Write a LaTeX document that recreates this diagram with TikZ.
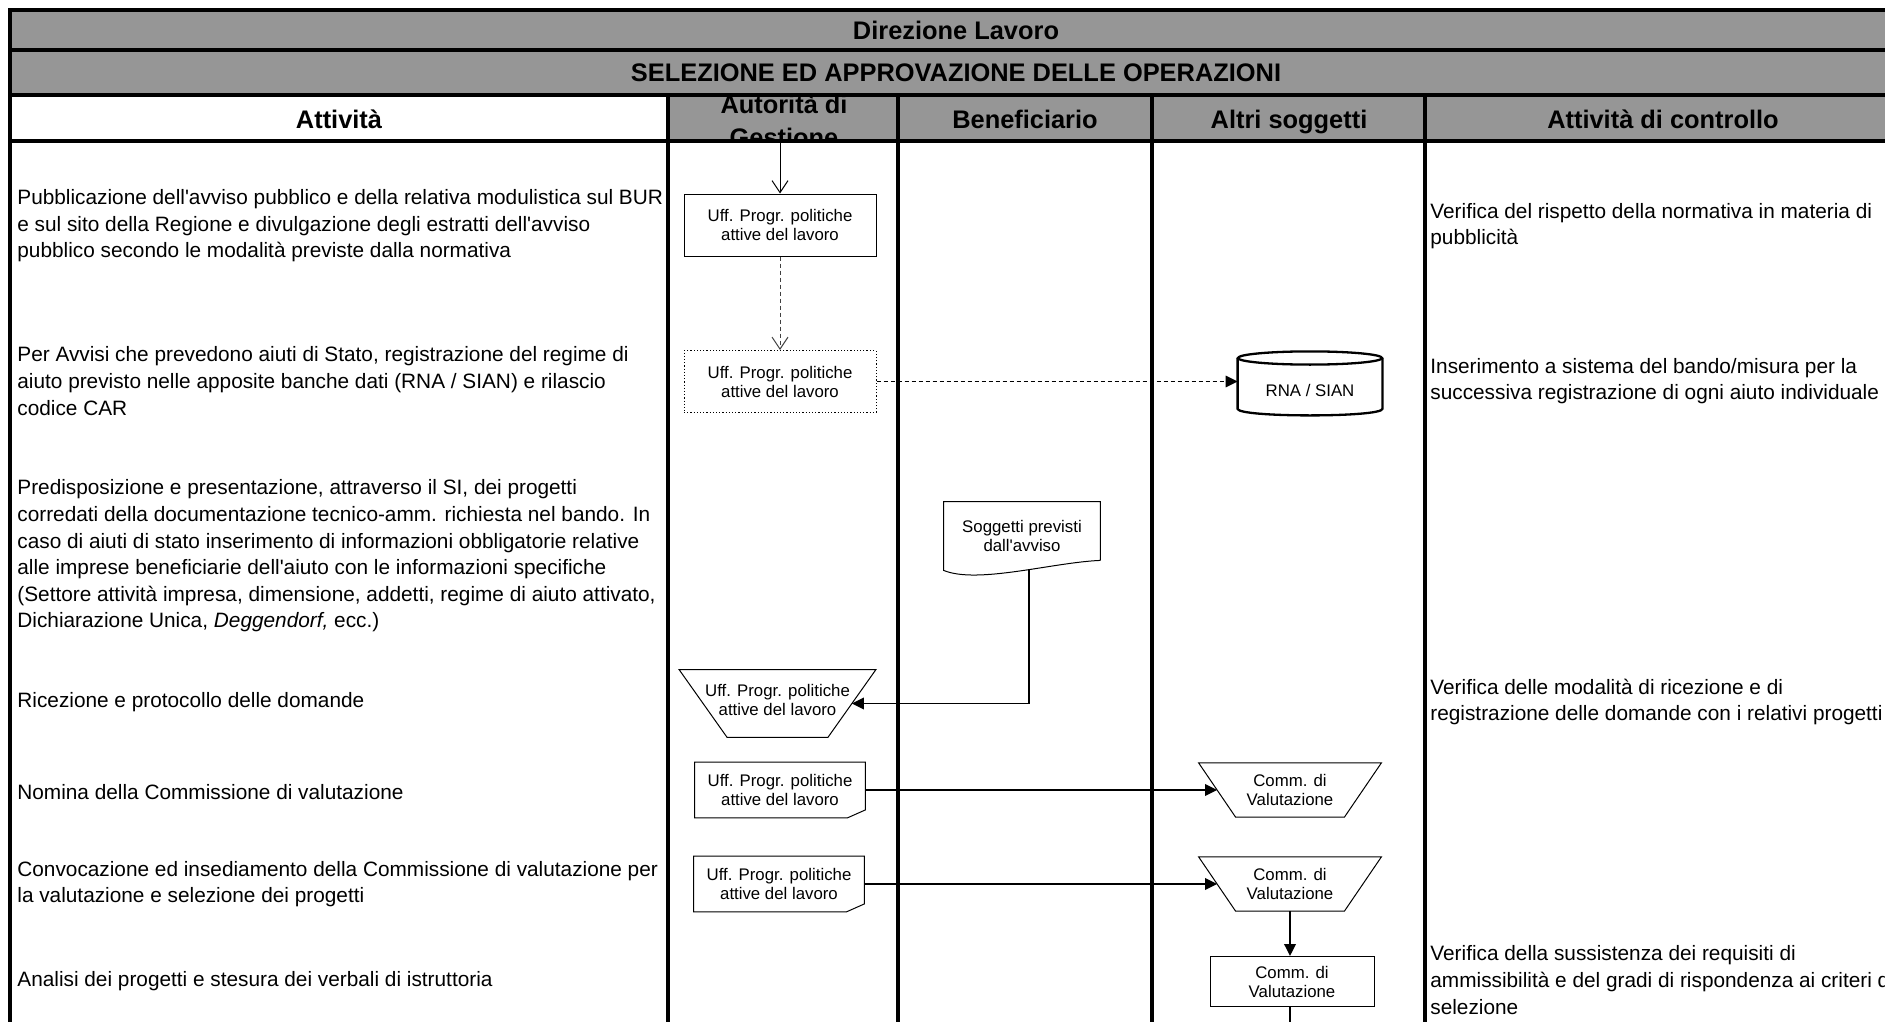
\documentclass[tikz,border=0pt]{standalone}
\usepackage{fontspec}
\setmainfont{Liberation Sans}
\usetikzlibrary{arrows.meta}

\definecolor{hdrgray}{RGB}{150,150,150}

\begin{document}
\begin{tikzpicture}[x=0.5pt,y=-0.5pt]
    \tikzstyle{grid}=[line width=2.2pt]
    \tikzstyle{hdr}=[font=\bfseries\fontsize{12.7}{17}\selectfont,inner sep=0pt]
    \tikzstyle{txt}=[anchor=west,align=left,inner sep=0pt,font=\fontsize{10.4}{13.3}\selectfont]
    \tikzstyle{uff}=[align=center,inner sep=0pt,font=\fontsize{8.4}{9.5}\selectfont]
    \tikzstyle{shp}=[line width=0.5pt]
    \tikzstyle{flow}=[line width=0.8pt,-{Triangle[length=6pt,width=5.8pt]}]
    \tikzstyle{vee}=[line width=0.5pt,-{Straight Barb[length=6pt,width=8pt]}]
    \tikzstyle{dashln}=[dash pattern=on 2pt off 1.5pt]
    \useasboundingbox (0,0) rectangle (1885,1022);

    % header
    \fill[hdrgray] (10,10) rectangle (1902,141);
    \fill[white] (10,95) rectangle (668,141);
    \node[hdr] (dir) at (956,30) {Direzione Lavoro};
    \node[hdr] (sel) at (956,72.5) {SELEZIONE ED APPROVAZIONE DELLE OPERAZIONI};
    \node[hdr,anchor=base] (hatt) at (339,128.5) {Attività};
    \begin{scope}
        \clip (668,97) rectangle (898,139);
        \node[hdr,align=center,anchor=base] (hag) at (784,147) {Autorità di\\Gestione};
    \end{scope}
    \node[hdr,anchor=base] (hben) at (1025,128.5) {Beneficiario};
    \node[hdr,anchor=base] (halt) at (1289,128.5) {Altri soggetti};
    \node[hdr,anchor=base] (hctl) at (1663,128.5) {Attività di controllo};

    \draw[grid] (1902,10) -- (10,10) -- (10,1035);
    \foreach \y in {50,95,141}
        \draw[grid] (10,\y) -- (1902,\y);
    \foreach \x in {668,898,1152,1425}
        \draw[grid] (\x,95) -- (\x,1035);

    % attivita
    \node[txt] (act1) at (17,226) {Pubblicazione dell\textquotesingle avviso pubblico e della relativa modulistica sul BUR\\e sul sito della Regione e divulgazione degli estratti dell\textquotesingle avviso\\pubblico secondo le modalità previste dalla normativa};
    \node[txt] (act2) at (17,381) {Per Avvisi che prevedono aiuti di Stato, registrazione del regime di\\aiuto previsto nelle apposite banche dati (RNA / SIAN) e rilascio\\codice CAR};
    \node[txt] (act3) at (17,556) {Predisposizione e presentazione, attraverso il SI, dei progetti\\corredati della documentazione tecnico-amm. richiesta nel bando. In\\caso di aiuti di stato inserimento di informazioni obbligatorie relative\\alle imprese beneficiarie dell\textquotesingle aiuto con le informazioni specifiche\\(Settore attività impresa, dimensione, addetti, regime di aiuto attivato,\\Dichiarazione Unica, \textit{Deggendorf,} ecc.)};
    \node[txt] (act4) at (17,702) {Ricezione e protocollo delle domande};
    \node[txt] (act5) at (17,792) {Nomina della Commissione di valutazione};
    \node[txt] (act6) at (17,884) {Convocazione ed insediamento della Commissione di valutazione per\\la valutazione e selezione dei progetti};
    \node[txt] (act7) at (17,981) {Analisi dei progetti e stesura dei verbali di istruttoria};

    % controlli
    \node[txt] (ctl1) at (1430,226) {Verifica del rispetto della normativa in materia di\\pubblicità};
    \node[txt] (ctl2) at (1430,381) {Inserimento a sistema del bando/misura per la\\successiva registrazione di ogni aiuto individuale};
    \node[txt] (ctl3) at (1430,702) {Verifica delle modalità di ricezione e di\\registrazione delle domande con i relativi progetti};
    \node[txt] (ctl4) at (1430,980) {Verifica della sussistenza dei requisiti di\\ammissibilità e del gradi di rispondenza ai criteri di\\selezione};

    % flusso
    \coordinate (agtop) at (780,141);
    \node[uff,shp,draw,minimum width=96pt,minimum height=31pt] (pub) at (780,225) {Uff. Progr. politiche\\attive del lavoro};
    \node[uff,shp,draw,dash pattern=on 0.6pt off 1pt,minimum width=96pt,minimum height=31pt] (reg) at (780,381.5) {Uff. Progr. politiche\\attive del lavoro};
    \node[uff,minimum width=72pt,minimum height=25pt] (rna) at (1310,390) {RNA / SIAN};
    \draw[line width=1.15pt] ([yshift=3.3pt]rna.north west) -- ([yshift=3.3pt]rna.south west) .. controls +(0,-4.4pt) and +(0,-4.4pt) .. ([yshift=3.3pt]rna.south east) -- ([yshift=3.3pt]rna.north east);
    \draw[line width=1.15pt] ([yshift=3.3pt]rna.north) ellipse [x radius=36pt,y radius=3.3pt];

    \node[uff,minimum width=78pt,minimum height=34pt] (sogg) at (1022,536) {Soggetti previsti\\dall\textquotesingle avviso};
    \draw[shp] ([yshift=5pt]sogg.south east) -- (sogg.north east) -- (sogg.north west) -- (sogg.south west) .. controls +(17pt,-7pt) and +(-24pt,-1pt) .. ([yshift=5pt]sogg.south east);

    \node[uff,text depth=3.8pt,minimum width=98pt,minimum height=33.5pt] (ric) at (777.5,703.5) {Uff. Progr. politiche\\attive del lavoro};
    \draw[shp] (ric.north west) -- (ric.north east) -- ([xshift=-24pt]ric.south east) -- ([xshift=24pt]ric.south west) -- cycle;

    \node[uff,minimum width=85pt,minimum height=27.5pt] (nom) at (780,790) {Uff. Progr. politiche\\attive del lavoro};
    \draw[shp] (nom.north west) -- (nom.north east) -- ([yshift=4pt]nom.south east) -- ([xshift=-9pt]nom.south east) -- (nom.south west) -- cycle;
    \node[uff,minimum width=91pt,minimum height=26.75pt] (comm1) at (1290,790) {Comm. di\\Valutazione};
    \draw[shp] (comm1.north west) -- (comm1.north east) -- ([xshift=-18.5pt]comm1.south east) -- ([xshift=18.5pt]comm1.south west) -- cycle;

    \node[uff,minimum width=85pt,minimum height=27.5pt] (conv) at (779,884) {Uff. Progr. politiche\\attive del lavoro};
    \draw[shp] (conv.north west) -- (conv.north east) -- ([yshift=4pt]conv.south east) -- ([xshift=-9pt]conv.south east) -- (conv.south west) -- cycle;
    \node[uff,minimum width=91pt,minimum height=26.75pt] (comm2) at (1290,884) {Comm. di\\Valutazione};
    \draw[shp] (comm2.north west) -- (comm2.north east) -- ([xshift=-18.5pt]comm2.south east) -- ([xshift=18.5pt]comm2.south west) -- cycle;

    \node[uff,shp,draw,minimum width=82pt,minimum height=25pt] (istr) at (1292,981.5) {Comm. di\\Valutazione};
    \coordinate (next) at (1290,1035);

    \draw[vee] (agtop) -- (pub);
    \draw[vee,dashln,black!75] (pub) -- (reg);
    \draw[flow,dashln,line width=0.6pt] (reg.east) -- (reg.east -| rna.west);
    \draw[flow] ([xshift=3.6pt]sogg.south) |- ([xshift=-12pt]ric.east);
    \draw[flow] (nom.east) -- ([xshift=9.25pt]comm1.west);
    \draw[flow] (conv.east) -- ([xshift=9.25pt]comm2.west);
    \draw[flow] (comm2.south) -- (comm2.south |- istr.north);
    \draw[line width=0.8pt] (istr.south -| next) -- (next);
\end{tikzpicture}
\end{document}
